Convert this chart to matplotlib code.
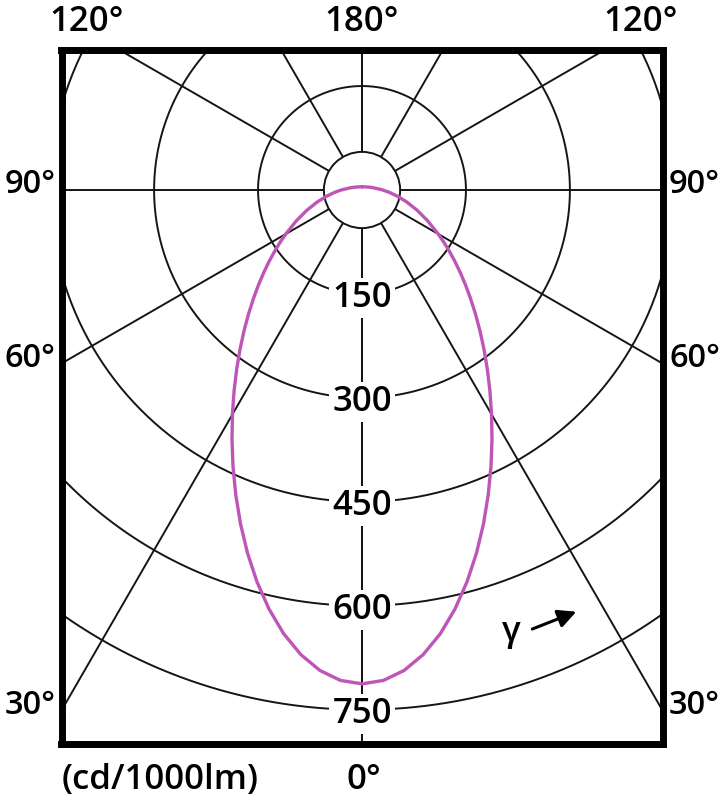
import numpy as np
import matplotlib.pyplot as plt
from matplotlib.patches import Circle

plt.rcParams['font.family'] = ['Open Sans', 'DejaVu Sans']

# luminous intensity (cd/1000lm) against gamma angle
gamma = [0, 2.5, 5, 7.5, 10, 12.5, 15, 17.5, 20, 22.5, 25, 27.5, 30, 32.5,
         35, 37.5, 40, 42.5, 45, 47.5, 50, 52.5, 55, 57.5, 60, 65, 70, 75,
         80, 85, 90, 100, 110, 120, 130, 140, 150, 160, 170, 180]
intensity = [712.6, 708.4, 696.0, 676.2, 650.3, 619.5, 585.4, 549.4, 512.6,
             476.0, 440.4, 406.2, 373.9, 343.5, 315.2, 288.9, 264.6, 242.2,
             221.5, 202.5, 184.9, 168.7, 153.7, 139.8, 127.0, 104.0, 84.1,
             66.8, 52.0, 39.7, 30.0, 17.6, 11.7, 8.6, 6.9, 5.9, 5.3, 4.9,
             4.7, 4.6]

rings = [150, 300, 450, 600, 750]
ray_angles = [0, 30, 60, 90, 120, 150, 180]
side_labels = ['90°', '60°', '30°']
side_angles = [90, 60, 30]
top_labels = ['120°', '180°', '120°']

grid_col = '#151515'
curve_col = '#bd56b6'
hub_r = 55
fs = 25
fw = 'semibold'

fig = plt.figure(figsize=(7.24, 8), dpi=100)
ax = fig.add_axes([61.5 / 724, 1 - 743.5 / 800, 601 / 724, 693.5 / 800])
xmax = 433.6
ax.set_xlim(-xmax, xmax)
ax.set_ylim(-798.7, 202)
ax.set_xticks([])
ax.set_yticks([])
for s in ax.spines.values():
    s.set_linewidth(5)
    s.set_color('black')

# rings
t = np.linspace(0, 2 * np.pi, 600)
for r in rings:
    ax.plot(r * np.cos(t), r * np.sin(t), color=grid_col, lw=1.4, zorder=1)

# rays from the hub
for a in ray_angles:
    ar = np.radians(a)
    for side in (-1, 1):
        dx, dy = side * np.sin(ar), -np.cos(ar)
        ax.plot([hub_r * dx, 1500 * dx], [hub_r * dy, 1500 * dy],
                color=grid_col, lw=1.4, zorder=1)

ax.add_patch(Circle((0, 0), hub_r, facecolor='white', edgecolor=grid_col,
                    lw=1.4, zorder=2))

# light distribution curve, mirrored for both halves
g = np.radians(np.concatenate([-np.array(gamma[::-1]), np.array(gamma[1:])]))
I = np.concatenate([np.array(intensity[::-1]), np.array(intensity[1:])])
ax.plot(I * np.sin(g), -I * np.cos(g), color=curve_col, lw=2.4, zorder=4,
        solid_capstyle='round', solid_joinstyle='round')

# ring values on the 0 deg axis
for r in rings:
    ax.text(0, -r, str(r), ha='center', va='center_baseline', fontsize=fs,
            fontweight=fw, zorder=5,
            bbox=dict(facecolor='white', edgecolor='none', pad=2))

# angle labels around the frame
for lab, a in zip(side_labels, side_angles):
    yy = -xmax / np.tan(np.radians(a)) if a != 90 else 0
    ax.text(-442, yy + 13, lab, ha='right', va='center_baseline',
            fontsize=23.5, fontweight=fw, clip_on=False)
    ax.text(443, yy + 13, lab, ha='left', va='center_baseline',
            fontsize=23.5, fontweight=fw, clip_on=False)

for lab, xx in zip(top_labels, [-397, 0, 402]):
    ax.text(xx, 248, lab, ha='center', va='center_baseline', fontsize=fs,
            fontweight=fw, clip_on=False)

ax.text(2, -846, '0°', ha='center', va='center_baseline', fontsize=fs,
        fontweight=fw, clip_on=False)
ax.text(-433, -846, '(cd/1000lm)', ha='left', va='center_baseline',
        fontsize=fs, fontweight=fw, clip_on=False)

# gamma direction hint
ax.text(216, -632, 'γ', ha='center', va='center_baseline', fontsize=fs,
        fontweight=fw)
ax.annotate('', xy=(313, -607), xytext=(242, -635),
            arrowprops=dict(arrowstyle='-|>,head_length=1.1,head_width=0.55',
                            color='black', lw=2.2))

fig.savefig('out.png', dpi=100, facecolor='white')
